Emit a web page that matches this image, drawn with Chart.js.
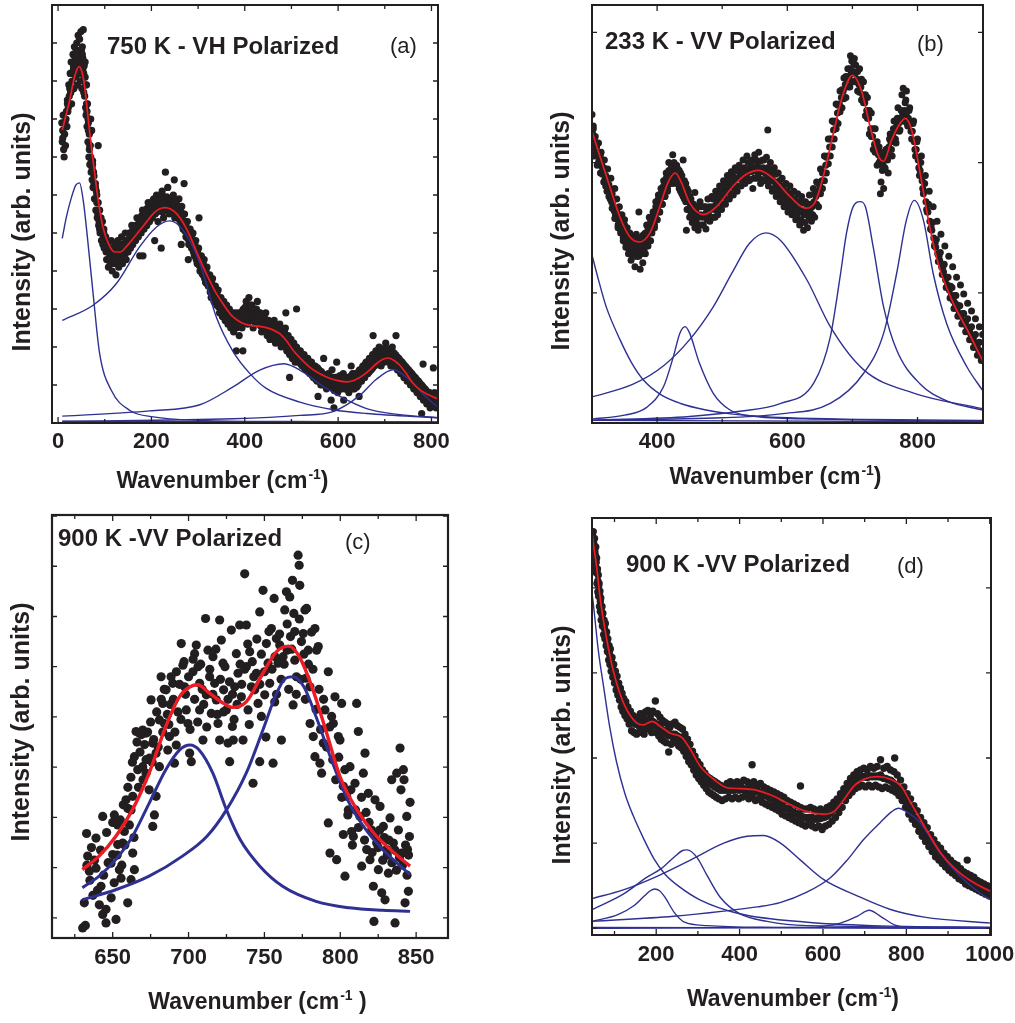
<!DOCTYPE html>
<html>
<head>
<meta charset="utf-8">
<title>Raman spectra with peak fits</title>
<script src="https://cdn.jsdelivr.net/npm/chart.js@4.4.1/dist/chart.umd.min.js"></script>
<style>
  body { margin: 0; background: #fff; }
  #page { position: relative; width: 1015px; height: 1023px; overflow: hidden; }
  canvas { position: absolute; }
</style>
</head>
<body>
<div id="page">
  <canvas id="pa" width="450" height="505" style="left:0;top:0"></canvas>
  <canvas id="pb" width="475" height="505" style="left:540px;top:0"></canvas>
  <canvas id="pc" width="460" height="518" style="left:0;top:505px"></canvas>
  <canvas id="pd" width="475" height="518" style="left:540px;top:505px"></canvas>
</div>
<script>
// ---- panel (a): 750 K, VH ----
const aXTicks = [0, 100, 200, 300, 400, 500, 600, 700, 800];
const aXLabels = ['0', '', '200', '', '400', '', '600', '', '800'];
const aYTicks = [0, 1, 2, 3, 4, 5, 6, 7, 8, 9, 10, 11];
const aFit = [[9,7.71],[18,8.15],[25,8.5],[35,9.1],[45,9.38],[51,9.25],[57,8.85],[62,8.3],[68,7.62],[75,6.9],[82,6.22],[89,5.62],[96,5.16],[108,4.72],[121,4.5],[133,4.5],[146,4.64],[160,4.84],[175,5.07],[190,5.3],[204,5.51],[217,5.63],[229,5.67],[241,5.63],[254,5.51],[268,5.27],[282,4.94],[296,4.53],[311,4.11],[325,3.74],[339,3.41],[357,3.07],[375,2.79],[393,2.64],[411,2.57],[428,2.55],[446,2.51],[460,2.45],[475,2.35],[490,2.15],[504,1.91],[521,1.68],[539,1.47],[557,1.32],[575,1.21],[597,1.12],[618,1.08],[636,1.13],[654,1.26],[668,1.40],[682,1.56],[695,1.67],[707,1.71],[719,1.65],[732,1.52],[746,1.30],[761,1.04],[775,0.88],[789,0.77],[813,0.64]];
const aPeak1 = [[9,4.86],[18,5.43],[29,5.95],[38,6.26],[46,6.32],[54,5.85],[62,4.99],[75,3.41],[89,1.83],[114,0.86],[154,0.33],[204,0.16],[304,0.07],[500,0.04],[813,0.02]];
const aPeak2 = [[9,2.70],[75,3.10],[125,3.67],[175,4.64],[211,5.16],[239,5.32],[268,5.07],[304,4.2],[339,2.79],[375,1.88],[411,1.30],[446,0.91],[518,0.55],[589,0.35],[661,0.25],[813,0.14]];
const aPeak3 = [[9,0.18],[196,0.32],[304,0.48],[375,0.95],[432,1.39],[484,1.56],[525,1.34],[561,1.02],[604,0.70],[661,0.38],[732,0.22],[813,0.14]];
const aPeak4 = [[9,0.05],[375,0.11],[518,0.2],[589,0.3],[646,0.72],[682,1.15],[718,1.40],[754,1.12],[789,0.68],[813,0.42]];
const aBase = [[9,0.04],[813,0.03]];
const aDots = [[8,7.9],[9,7.4],[10,7.7],[11,8.1],[12,7.2],[13,7.0],[14,7.6],[15,7.9],[16,7.3],[18,8.2],[19,7.8],[20,8.5],
[22,8.3],[23,8.9],[24,8.6],[26,9.2],[27,8.7],[28,9.5],[29,8.4],[30,9.0],[32,9.7],[33,9.3],[34,8.8],[35,9.9],[36,9.4],[38,9.1],[39,9.8],[40,10.0],[41,9.5],[42,8.9],[43,10.2],[44,9.6],[45,9.2],
[46,10.1],[47,9.7],[48,9.0],[49,10.3],[50,9.4],[51,8.8],[52,9.9],[53,9.3],[54,10.35],[55,8.7],[56,9.1],[57,8.6],[58,9.5],[59,8.3],
[60,8.1],[61,8.9],[62,7.8],[63,8.4],[64,7.4],[65,7.9],[66,7.0],[67,7.6],[68,6.8],[69,7.3],[70,8.0],[71,6.6],[72,7.7],[73,6.4],[74,6.9],[75,6.2],[77,6.5],[78,5.9],[80,6.3],[81,5.6],[83,6.0],[84,5.4],[86,7.3],[86,5.8],[87,5.2],[89,5.6],[90,5.0],[92,5.4],[93,4.8],[95,5.3],[96,4.7],[98,5.1],[99,4.6],
[102,4.9],[104,4.3],[106,4.7],[108,4.1],[110,4.6],[112,4.2],[114,4.8],[116,4.0],[118,4.5],[120,4.2],[122,4.7],[124,3.9],[126,4.4],[128,4.8],[130,4.1],[132,4.6],[134,4.3],[136,4.9],[138,4.2],[140,4.7],[142,4.4],[144,5.0],[146,4.3],[148,4.8],
[150,4.5],[152,5.0],[155,4.6],[158,5.2],[160,4.7],[163,5.1],[166,4.8],[169,5.4],[172,4.9],[175,5.3],[175,4.4],[178,5.0],[181,5.6],[182,4.4],[184,5.1],[187,5.5],[190,5.2],[193,5.8],[196,5.3],[199,5.7],
[202,5.4],[205,5.9],[207,4.8],[208,5.5],[211,6.0],[214,5.3],[217,5.8],[220,5.6],[221,4.6],[223,6.1],[226,5.4],[229,5.9],[230,6.6],[232,5.7],[235,6.2],[238,5.5],[241,5.9],[244,5.6],[247,6.0],[249,6.4],[250,5.4],[253,5.8],[256,5.5],[259,5.9],
[262,5.3],[264,4.7],[265,5.7],[268,5.1],[270,6.3],[271,5.5],[274,4.9],[277,5.3],[279,4.3],[280,4.7],[283,5.1],[286,4.6],[289,5.0],[292,4.4],[295,4.8],[298,4.2],[301,4.6],[302,5.4],[304,4.0],[307,4.4],[310,3.9],
[313,4.3],[316,3.7],[319,4.1],[322,3.6],[325,3.9],[328,3.3],[331,3.8],[334,3.2],[337,3.6],[340,3.1],[343,3.5],[346,2.9],[349,3.3],[352,2.8],[355,3.2],[358,2.7],[361,3.1],[364,2.6],[367,3.0],[370,2.5],[373,2.9],[376,2.4],[379,2.9],[382,1.9],[382,2.5],[385,2.9],[388,2.3],[391,2.8],[394,2.5],[396,1.9],[397,3.0],
[400,2.7],[403,3.2],[406,2.6],[409,3.3],[412,2.8],[415,3.1],[418,2.5],[421,3.0],[424,2.7],[427,3.2],[430,2.6],[433,2.9],[436,2.4],[439,2.8],[442,2.5],[445,2.9],[448,2.3],
[451,2.7],[454,2.2],[457,2.6],[460,2.3],[463,2.7],[466,2.1],[469,2.5],[472,2.2],[475,2.6],[478,2.0],[481,2.4],[484,2.1],[487,2.5],[488,2.9],[490,1.9],[493,2.3],[496,1.2],[496,1.8],[499,2.2],[502,1.7],[505,2.1],[508,1.6],
[511,3.0],[511,2.0],[515,1.6],[519,1.9],[523,1.5],[527,1.8],[531,1.4],[535,1.7],[539,1.3],[543,1.6],[547,1.2],[551,1.5],[555,1.1],[557,0.7],[559,1.4],[563,1.0],[567,1.3],[569,1.7],[571,1.2],[575,0.9],[579,1.3],[583,1.0],[585,0.6],[587,1.4],[591,0.4],[591,0.9],[595,1.2],[597,1.6],[599,0.8],[603,1.2],[607,1.0],[611,1.3],[612,0.6],[615,0.9],[619,1.2],[623,0.8],[627,1.1],[628,1.5],[631,1.3],[635,0.9],[639,1.2],
[643,1.0],[645,0.7],[646,1.4],[650,1.1],[653,1.5],[657,1.2],[660,1.6],[664,1.3],[667,1.7],[671,1.4],[674,1.8],[675,2.3],[678,1.5],[681,1.9],[685,1.6],[688,2.0],[692,1.5],[695,1.9],[699,1.6],[702,2.1],[706,1.7],[709,1.9],[713,1.5],[716,2.0],[720,1.6],[723,1.8],[724,2.3],[727,1.4],[730,1.7],[734,1.3],[737,1.6],
[741,1.2],[744,1.5],[748,1.1],[751,1.4],[755,1.0],[758,1.3],[762,0.9],[765,1.2],[769,0.8],[772,1.1],[776,0.7],[779,1.0],[779,0.25],[782,1.55],[783,0.6],[786,0.9],[790,0.5],[793,0.8],[797,0.4],[800,0.7],[804,1.45],[804,0.5],[807,0.8],[810,0.4],[813,0.6]];
const aMid = [[10,7.5],[17,8.0],[21,8.2],[25,8.8],[31,9.2],[37,9.6],[42,9.4],[47,9.5],[50,9.8],[53,9.6],[56,9.4],[59,8.9],[61,8.4],[64,8.0],[67,7.2],[70,7.0],[73,6.7],[76,6.6],[79,6.2],[82,6.1],[85,5.5],[88,5.3],[91,5.2],[94,5.0],[97,4.9],[100,4.8],[103,4.5],[107,4.5],[111,4.4],[115,4.4],[119,4.35],[123,4.4],[127,4.5],[131,4.4],[135,4.55],[139,4.5],[143,4.6],[147,4.6],[151,4.75],[154,4.8],[157,4.9],[161,4.95],[165,5.0],[168,5.1],[171,5.15],[174,5.2],[177,5.25],[180,5.3],[183,5.35],[186,5.3],[189,5.45],[192,5.5],[195,5.55],[198,5.5],[201,5.65],[204,5.7],[207,5.65],[210,5.75],[213,5.7],[216,5.65],[219,5.8],[222,5.75],[225,5.7],[228,5.8],[231,5.75],[234,5.8],[237,5.85],[240,5.7],[243,5.75],[246,5.7],[249,5.65],[252,5.6],[255,5.7],[258,5.55],[261,5.5],[264,5.4],[267,5.35],[270,5.3],[273,5.2],[276,5.1],[279,5.0],[282,4.95],[285,4.85],[288,4.75],[291,4.65],[294,4.55],[297,4.45],[300,4.35],[303,4.3],[306,4.2],[309,4.1],[312,4.0],[315,3.95],[318,3.85],[321,3.8],[324,3.7],[327,3.6],[330,3.55],[333,3.5],[336,3.4],[339,3.35],[342,3.3],[345,3.2],[348,3.1],[351,3.05],[354,3.0],[357,2.95],[360,2.9],[363,2.85],[366,2.8],[369,2.75],[372,2.7],[375,2.65],[378,2.7],[381,2.75],[384,2.7],[387,2.65],[390,2.7],[393,2.75],[396,2.8],[399,2.9],[402,2.95],[405,2.9],[408,2.95],[411,3.0],[414,2.95],[417,2.85],[420,2.8],[423,2.9],[426,2.85],[429,2.8],[432,2.75],[435,2.7],[438,2.65],[441,2.7],[444,2.6],[447,2.65],[450,2.5],[453,2.45],[456,2.4],[459,2.45],[462,2.5],[465,2.4],[468,2.3],[471,2.35],[474,2.4],[477,2.3],[480,2.2],[483,2.25],[486,2.3],[489,2.2],[492,2.1],[495,2.05],[498,2.0],[501,1.95],[504,1.9],[507,1.85],[510,1.8],[513,1.8],[517,1.75],[521,1.7],[525,1.65],[529,1.6],[533,1.55],[537,1.5],[541,1.45],[545,1.4],[549,1.35],[553,1.3],[557,1.3],[561,1.25],[565,1.2],[569,1.15],[573,1.1],[577,1.1],[581,1.15],[585,1.1],[589,1.05],[593,1.0],[597,1.05],[601,1.0],[605,1.1],[609,1.05],[613,1.1],[617,1.05],[621,1.0],[625,1.05],[629,1.1],[633,1.05],[637,1.15],[641,1.1],[645,1.2],[649,1.25],[653,1.3],[656,1.35],[659,1.4],[662,1.45],[665,1.5],[669,1.55],[673,1.6],[676,1.65],[680,1.7],[683,1.75],[687,1.8],[690,1.75],[694,1.8],[697,1.75],[701,1.85],[704,1.8],[708,1.75],[711,1.7],[715,1.75],[718,1.7],[722,1.65],[725,1.6],[729,1.55],[732,1.5],[736,1.45],[739,1.4],[743,1.35],[746,1.3],[750,1.25],[753,1.2],[757,1.15],[760,1.1],[764,1.05],[767,1.0],[771,0.95],[774,0.9],[778,0.85],[781,0.8],[785,0.75],[788,0.7],[792,0.68],[795,0.65],[799,0.6],[802,0.62],[806,0.6],[809,0.58],[812,0.55]];
const aMid2 = [[12,7.9],[20,8.4],[27,8.7],[33,9.4],[39,9.3],[44,9.8],[48,9.3],[52,9.7],[55,9.2],[58,9.1],[62,8.2],[65,7.7],[68,7.3],[71,6.9],[74,6.8],[77,6.3],[80,6.2],[83,5.8],[86,5.6],[89,5.1],[92,5.1],[95,4.8],[98,5.0],[101,4.6],[105,4.7],[109,4.3],[113,4.6],[117,4.2],[121,4.6],[125,4.25],[129,4.65],[133,4.3],[137,4.7],[141,4.4],[145,4.8],[149,4.5],[153,4.95],[156,4.65],[159,5.05],[163,4.8],[167,5.2],[170,4.95],[173,5.35],[176,5.05],[179,5.45],[182,5.15],[185,5.5],[188,5.2],[191,5.65],[194,5.35],[197,5.7],[200,5.4],[203,5.85],[206,5.5],[209,5.9],[212,5.55],[215,5.85],[218,5.6],[221,5.95],[224,5.55],[227,5.95],[230,5.6],[233,5.95],[236,5.65],[239,5.9],[242,5.55],[245,5.9],[248,5.5],[251,5.8],[254,5.45],[257,5.7],[260,5.35],[263,5.55],[266,5.2],[269,5.5],[272,5.05],[275,5.3],[278,4.85],[281,5.1],[284,4.7],[287,4.95],[290,4.5],[293,4.7],[296,4.3],[299,4.5],[302,4.15],[305,4.35],[308,3.95],[311,4.2],[314,3.8],[317,4.0],[320,3.65],[323,3.85],[326,3.45],[329,3.7],[332,3.35],[335,3.55],[338,3.2],[341,3.45],[344,3.05],[347,3.25],[350,2.9],[353,3.15],[356,2.8],[359,3.05],[362,2.7],[365,2.95],[368,2.6],[371,2.85],[374,2.5],[377,2.85],[380,2.6],[383,2.85],[386,2.55],[389,2.85],[392,2.6],[395,2.95],[398,2.7],[401,3.05],[404,2.75],[407,3.1],[410,2.85],[413,3.1],[416,2.7],[419,2.95],[422,2.65],[425,3.0],[428,2.65],[431,2.9],[434,2.55],[437,2.85],[440,2.55],[443,2.75],[446,2.45],[449,2.65],[452,2.3],[455,2.55],[458,2.3],[461,2.6],[464,2.25],[467,2.45],[470,2.2],[473,2.5],[476,2.15],[479,2.35],[482,2.1],[485,2.4],[488,2.05],[491,2.25],[494,1.9],[497,2.15],[500,1.8],[503,2.05],[506,1.7],[509,1.95],[512,1.65],[516,1.9],[520,1.55],[524,1.8],[528,1.45],[532,1.7],[536,1.35],[540,1.6],[544,1.25],[548,1.5],[552,1.15],[556,1.45],[560,1.1],[564,1.35],[568,1.0],[572,1.25],[576,0.95],[580,1.25],[584,0.95],[588,1.2],[592,0.85],[596,1.2],[600,0.85],[604,1.25],[608,0.9],[612,1.2],[616,0.9],[620,1.15],[624,0.9],[628,1.25],[632,0.9],[636,1.3],[640,0.95],[644,1.35],[648,1.1],[652,1.45],[655,1.2],[658,1.55],[661,1.3],[664,1.6],[667,1.35],[670,1.7],[674,1.45],[677,1.8],[681,1.55],[684,1.9],[688,1.65],[691,1.9],[695,1.6],[698,1.95],[702,1.65],[705,1.95],[709,1.6],[712,1.85],[716,1.55],[719,1.85],[723,1.5],[726,1.75],[730,1.4],[733,1.65],[737,1.3],[740,1.55],[744,1.2],[747,1.45],[751,1.1],[754,1.35],[758,1.0],[761,1.25],[765,0.9],[768,1.15],[772,0.8],[775,1.05],[779,0.7],[782,0.95],[786,0.6],[789,0.85],[793,0.55],[796,0.8],[800,0.5],[803,0.75],[807,0.45],[810,0.7],[813,0.5]];

// ---- panel (b): 233 K, VV ----
const bXTicks = [300, 400, 500, 600, 700, 800, 900];
const bXLabels = ['', '400', '', '600', '', '800', ''];
const bYTicks = [0, 1, 2, 3];
const bFit = [[300,2.24],[312,2.05],[327,1.82],[343,1.58],[358,1.43],[373,1.39],[389,1.46],[404,1.66],[417,1.85],[428,1.92],[437,1.85],[450,1.69],[471,1.60],[491,1.66],[517,1.82],[537,1.91],[556,1.94],[578,1.88],[604,1.74],[628,1.65],[642,1.69],[655,1.89],[671,2.23],[686,2.53],[700,2.67],[714,2.55],[727,2.28],[740,2.05],[748,2.01],[760,2.17],[773,2.30],[781,2.34],[791,2.25],[804,1.92],[817,1.55],[832,1.22],[855,0.92],[876,0.72],[900,0.48]];
const bPeak1 = [[300,1.29],[311,1.08],[322,0.89],[343,0.64],[360,0.47],[379,0.33],[405,0.22],[436,0.15],[475,0.10],[513,0.07],[600,0.04],[900,0.02]];
const bPeak2 = [[300,0.03],[350,0.06],[384,0.12],[410,0.28],[425,0.51],[435,0.69],[443,0.74],[450,0.69],[465,0.46],[486,0.23],[512,0.10],[552,0.05],[650,0.03],[900,0.01]];
const bPeak3 = [[300,0.20],[364,0.30],[410,0.44],[450,0.64],[486,0.89],[517,1.17],[542,1.38],[567,1.46],[590,1.40],[630,1.10],[666,0.74],[717,0.41],[794,0.23],[900,0.11]];
const bPeak4 = [[300,0.02],[450,0.05],[527,0.09],[590,0.15],[641,0.31],[666,0.66],[681,1.12],[691,1.46],[701,1.66],[712,1.70],[720,1.66],[732,1.35],[748,0.89],[768,0.56],[804,0.30],[845,0.17],[900,0.10]];
const bPeak5 = [[300,0.02],[500,0.04],[590,0.07],[666,0.15],[717,0.38],[748,0.69],[768,1.15],[783,1.56],[795,1.71],[809,1.56],[824,1.15],[845,0.76],[876,0.43],[900,0.25]];
const bBase = [[300,0.02],[900,0.01]];
const bDots = [[300,2.37],[301,2.15],[302,2.28],[304,2.05],[305,2.20],[307,2.12],[308,1.98],[310,2.15],[311,2.02],[313,1.92],[314,2.08],[316,1.96],[318,1.85],[319,2.02],[321,1.90],[323,1.78],[324,1.95],[326,1.83],[328,1.72],[329,1.88],
[331,1.76],[333,1.65],[335,1.80],[336,1.60],[338,1.72],[340,1.52],[342,1.66],[344,1.48],[346,1.60],[348,1.42],[350,1.56],[352,1.35],[354,1.50],[356,1.30],[358,1.46],[360,1.25],[362,1.42],[364,1.32],[366,1.20],[368,1.45],[370,1.28],[372,1.62],[372,1.38],[374,1.18],[376,1.33],[378,1.23],
[380,1.45],[382,1.30],[384,1.52],[386,1.36],[388,1.58],[390,1.40],[392,1.48],[394,1.62],[396,1.50],[398,1.70],[400,1.56],[402,1.75],[404,1.62],[406,1.80],[408,1.68],[410,1.86],[412,1.74],[414,1.92],[416,1.80],[418,2.00],[420,1.86],[422,1.95],[424,2.06],[426,1.88],[428,1.98],[430,1.84],
[432,1.95],[434,1.80],[436,1.92],[438,1.76],[440,2.02],[442,1.72],[444,1.84],[445,1.48],[446,1.64],[448,1.78],[450,1.58],[452,1.72],[454,1.54],[456,1.68],[458,1.77],[458,1.50],[460,1.64],[463,1.48],[466,1.70],[469,1.52],[472,1.66],[475,1.49],[478,1.72],
[481,1.55],[484,1.74],[487,1.58],[490,1.78],[493,1.60],[496,1.82],[499,1.64],[502,1.86],[505,1.68],[508,1.90],[511,1.72],[514,1.93],[517,1.75],[520,1.96],[523,1.78],[526,1.98],[529,1.82],[532,2.02],[535,1.84],[538,2.05],[541,1.86],[544,2.00],[547,1.80],[550,2.06],[553,1.88],[556,2.08],[559,1.84],[562,2.02],[565,1.86],[568,2.04],[570,2.25],[571,1.82],[574,2.00],[577,1.78],[580,1.96],[583,1.74],[586,1.92],[589,1.70],[592,1.88],[595,1.66],[598,1.84],[601,1.62],[604,1.82],[607,1.60],[610,1.78],[613,1.56],[616,1.76],[619,1.52],[622,1.74],[625,1.48],[628,1.70],[631,1.50],[634,1.75],[637,1.55],[640,1.80],
[642,1.58],[645,1.85],[648,1.66],[651,1.95],[654,1.80],[657,2.05],[660,1.92],[663,2.18],[666,2.05],[669,2.32],[672,2.18],[675,2.45],[678,2.30],[681,2.55],[684,2.42],[687,2.65],[690,2.50],[693,2.72],[696,2.58],[697,2.82],[699,2.78],[702,2.62],[703,2.80],[705,2.75],
[708,2.55],[711,2.72],[714,2.48],[717,2.62],[720,2.36],[723,2.50],[726,2.22],[729,2.38],[732,2.10],[735,2.26],[738,1.98],[741,2.12],[743,1.76],[744,1.85],[746,2.05],[748,1.80],[750,1.95],
[752,2.10],[755,1.92],[758,2.22],[761,2.05],[764,2.32],[767,2.15],[770,2.42],[773,2.25],[776,2.52],[778,2.57],[779,2.32],[782,2.48],[783,2.55],[785,2.28],[788,2.42],[791,2.18],[794,2.32],[797,2.05],[800,2.18],
[803,1.90],[806,2.05],[809,1.76],[812,1.90],[815,1.62],[818,1.78],[821,1.50],[824,1.66],[827,1.38],[830,1.55],[833,1.28],[836,1.45],[839,1.20],[842,1.36],[845,1.12],[848,1.28],[851,1.05],[854,1.20],[857,0.98],[860,1.12],[863,0.90],[866,1.06],[869,0.84],[871,0.99],[874,0.78],[877,0.92],[880,0.70],[883,0.86],[886,0.66],[889,0.80],[892,0.60],[895,0.74],[898,0.55],[900,0.68]];
const bMid = [[301,2.22],[303,2.18],[306,2.12],[309,2.07],[312,2.03],[315,1.98],[317,1.92],[320,1.87],[322,1.84],[325,1.80],[327,1.77],[330,1.70],[332,1.68],[334,1.63],[337,1.60],[339,1.57],[341,1.55],[343,1.52],[345,1.50],[347,1.46],[349,1.48],[351,1.44],[353,1.42],[355,1.40],[357,1.38],[359,1.36],[361,1.37],[363,1.34],[365,1.36],[367,1.33],[369,1.37],[371,1.35],[373,1.30],[375,1.38],[377,1.36],[379,1.40],[381,1.38],[383,1.42],[385,1.44],[387,1.46],[389,1.50],[391,1.55],[393,1.52],[395,1.58],[397,1.60],[399,1.62],[401,1.66],[403,1.68],[405,1.70],[407,1.74],[409,1.76],[411,1.80],[413,1.82],[415,1.85],[417,1.88],[419,1.90],[421,1.92],[423,1.90],[425,1.94],[427,1.92],[429,1.90],[431,1.92],[433,1.88],[435,1.86],[437,1.84],[439,1.82],[441,1.80],[443,1.76],[445,1.74],[447,1.72],[449,1.70],[451,1.66],[453,1.64],[455,1.62],[457,1.60],[459,1.58],[461,1.60],[464,1.58],[467,1.60],[470,1.58],[473,1.60],[476,1.62],[479,1.60],[482,1.64],[485,1.66],[488,1.64],[491,1.68],[494,1.70],[497,1.72],[500,1.74],[503,1.76],[506,1.78],[509,1.80],[512,1.82],[515,1.84],[518,1.86],[521,1.88],[524,1.88],[527,1.90],[530,1.92],[533,1.90],[536,1.94],[539,1.92],[542,1.95],[545,1.93],[548,1.96],[551,1.94],[554,1.98],[557,1.95],[560,1.93],[563,1.96],[566,1.92],[569,1.90],[572,1.92],[575,1.88],[578,1.86],[581,1.85],[584,1.82],[587,1.80],[590,1.78],[593,1.76],[596,1.74],[599,1.72],[602,1.72],[605,1.70],[608,1.68],[611,1.66],[614,1.65],[617,1.64],[620,1.62],[623,1.63],[626,1.60],[629,1.62],[632,1.64],[635,1.62],[638,1.66],[641,1.70],[644,1.74],[647,1.78],[650,1.82],[653,1.86],[656,1.92],[659,1.98],[662,2.05],[665,2.12],[668,2.18],[671,2.25],[674,2.32],[677,2.38],[680,2.45],[683,2.50],[686,2.55],[689,2.60],[692,2.64],[695,2.66],[698,2.68],[701,2.70],[704,2.68],[707,2.64],[710,2.60],[713,2.58],[716,2.52],[719,2.46],[722,2.40],[725,2.34],[728,2.26],[731,2.20],[734,2.14],[737,2.10],[740,2.06],[743,2.02],[745,2.00],[747,1.98],[749,2.02],[751,2.04],[753,2.08],[756,2.12],[759,2.16],[762,2.20],[765,2.24],[768,2.28],[771,2.30],[774,2.34],[777,2.38],[780,2.40],[783,2.36],[786,2.34],[789,2.30],[792,2.24],[795,2.16],[798,2.10],[801,2.02],[804,1.94],[807,1.86],[810,1.78],[813,1.70],[816,1.62],[819,1.55],[822,1.48],[825,1.42],[828,1.35],[831,1.30],[834,1.25],[837,1.20],[840,1.16],[843,1.10],[846,1.06],[849,1.02],[852,0.98],[855,0.94],[858,0.92],[861,0.88],[864,0.84],[867,0.82],[870,0.78],[873,0.76],[876,0.74],[879,0.70],[882,0.68],[885,0.64],[888,0.62],[891,0.58],[894,0.56],[897,0.52],[900,0.50]];
const bMid2 = [[302,2.26],[304,2.10],[307,2.15],[310,2.00],[313,2.06],[316,1.91],[318,1.96],[321,1.82],[323,1.86],[326,1.74],[328,1.80],[331,1.65],[333,1.72],[335,1.57],[338,1.64],[340,1.50],[342,1.60],[344,1.46],[346,1.54],[348,1.40],[350,1.52],[352,1.38],[354,1.46],[356,1.34],[358,1.42],[360,1.30],[362,1.42],[364,1.28],[366,1.40],[368,1.28],[370,1.42],[372,1.28],[374,1.36],[376,1.30],[378,1.44],[380,1.32],[382,1.46],[384,1.36],[386,1.50],[388,1.40],[390,1.56],[392,1.46],[394,1.62],[396,1.52],[398,1.66],[400,1.56],[402,1.72],[404,1.62],[406,1.76],[408,1.68],[410,1.82],[412,1.74],[414,1.88],[416,1.78],[418,1.94],[420,1.84],[422,1.98],[424,1.84],[426,2.00],[428,1.86],[430,1.98],[432,1.84],[434,1.94],[436,1.78],[438,1.90],[440,1.74],[442,1.86],[444,1.70],[446,1.80],[448,1.64],[450,1.74],[452,1.60],[454,1.68],[456,1.56],[458,1.66],[460,1.54],[462,1.66],[465,1.52],[468,1.66],[471,1.52],[474,1.66],[477,1.56],[480,1.66],[483,1.58],[486,1.72],[489,1.58],[492,1.74],[495,1.64],[498,1.78],[501,1.68],[504,1.82],[507,1.72],[510,1.86],[513,1.76],[516,1.90],[519,1.80],[522,1.94],[525,1.82],[528,1.96],[531,1.86],[534,1.96],[537,1.88],[540,2.00],[543,1.87],[546,2.02],[549,1.88],[552,2.02],[555,1.90],[558,2.01],[561,1.87],[564,2.02],[567,1.86],[570,1.96],[573,1.86],[576,1.94],[579,1.80],[582,1.91],[585,1.76],[588,1.86],[591,1.72],[594,1.82],[597,1.68],[600,1.78],[603,1.66],[606,1.76],[609,1.62],[612,1.72],[615,1.59],[618,1.70],[621,1.56],[624,1.69],[627,1.54],[630,1.68],[633,1.58],[636,1.68],[639,1.60],[642,1.76],[645,1.68],[648,1.84],[651,1.76],[654,1.92],[657,1.86],[660,2.04],[663,1.99],[666,2.18],[669,2.12],[672,2.31],[675,2.26],[678,2.44],[681,2.39],[684,2.56],[687,2.49],[690,2.66],[693,2.58],[696,2.72],[699,2.62],[702,2.76],[705,2.62],[708,2.70],[711,2.54],[714,2.64],[717,2.46],[720,2.52],[723,2.34],[726,2.40],[729,2.20],[732,2.26],[735,2.08],[738,2.16],[741,2.00],[744,2.08],[746,1.94],[748,2.04],[750,1.96],[752,2.10],[754,2.02],[757,2.18],[760,2.10],[763,2.26],[766,2.18],[769,2.34],[772,2.24],[775,2.40],[778,2.32],[781,2.46],[784,2.30],[787,2.40],[790,2.24],[793,2.30],[796,2.10],[799,2.16],[802,1.96],[805,2.00],[808,1.80],[811,1.84],[814,1.64],[817,1.68],[820,1.49],[823,1.54],[826,1.36],[829,1.41],[832,1.24],[835,1.31],[838,1.14],[841,1.22],[844,1.04],[847,1.12],[850,0.96],[853,1.04],[856,0.88],[859,0.98],[862,0.82],[865,0.90],[868,0.76],[871,0.84],[874,0.70],[877,0.80],[880,0.64],[883,0.74],[886,0.58],[889,0.68],[892,0.52],[895,0.62],[898,0.48]];

// ---- panel (c): 900 K, VV ----
const cXTicks = [625, 650, 675, 700, 725, 750, 775, 800, 825, 850];
const cXLabels = ['', '650', '', '700', '', '750', '', '800', '', '850'];
const cYTicks = [0, 1, 2, 3, 4, 5, 6, 7, 8];
const cFit = [[630,0.96],[641,1.23],[652,1.62],[663,2.15],[674,2.88],[685,3.81],[694,4.40],[701,4.60],[706,4.64],[714,4.47],[723,4.27],[729,4.19],[738,4.30],[749,4.87],[758,5.30],[766,5.41],[773,5.20],[782,4.54],[791,3.68],[800,2.80],[811,2.15],[822,1.69],[833,1.36],[846,1.03]];
const cPeak1 = [[630,0.60],[641,0.83],[652,1.16],[663,1.62],[674,2.28],[685,2.95],[694,3.34],[701,3.44],[707,3.34],[716,2.88],[725,2.15],[734,1.56],[747,1.03],[762,0.63],[784,0.33],[806,0.20],[828,0.15],[846,0.13]];
const cPeak2 = [[630,0.36],[652,0.56],[674,0.83],[696,1.23],[712,1.62],[725,2.15],[738,2.88],[749,3.74],[758,4.47],[764,4.77],[769,4.80],[776,4.60],[784,4.01],[795,3.08],[806,2.28],[817,1.75],[828,1.36],[846,0.86]];
const cDots = [[632.8,1.68],[639,1.59],[643.4,2.02],[651.1,2.05],[653.3,1.85],[633.5,1.23],[634.6,0.93],[631.3,0.30],[630.2,-0.20],[632,-0.15],[639,0.99],[642.3,0.63],[641.2,0.26],[643.4,0.07],[645.6,0.17],[645.6,-0.10],[648.9,1.09],[650,1.26],[652.2,-0.03],[653.3,1.46],[654.4,0.96],[655.5,0.79],[656.6,1.49],[657.7,1.72],[659.9,0.30],[662.1,0.76],[663.2,1.29],[664.3,0.96],[658.8,2.35],[660,2.18],[662.1,2.15],
[663.2,2.42],[665.4,3.71],[667.6,3.68],[669.8,3.74],[672,3.68],[664.3,3.21],[666.5,2.95],[669.8,3.01],[672,2.88],[674.2,3.18],[676.4,3.48],[678.6,3.28],[680.8,3.01],[675.3,4.34],[678.6,2.42],[676.4,1.82],[677.5,2.05],[680.8,3.94],[681.9,4.80],[683,4.27],[684.1,3.87],[685.2,4.54],[686.3,3.34],[687.4,3.61],[688.5,4.80],[689.6,4.67],[690.7,3.08],[691.9,3.44],
[695.2,5.46],[696.3,5.03],[697.4,4.60],[698.5,4.14],[699.6,3.87],[700.7,3.28],[701.8,3.11],[702.9,4.90],[704,5.26],[705.1,5.43],[706.2,5.00],[707.3,4.67],[707.3,4.14],[709.5,3.54],[711.2,5.96],[711.7,4.44],[712.8,5.33],[713.9,4.80],[715,4.07],[716.1,5.20],[717.2,4.67],[718.3,4.34],[719.4,3.87],[720.5,5.93],[720.5,3.54],[721.6,5.53],[722.7,5.07],[723.1,4.54],[724.9,4.14],[726,3.48],[727.1,3.11],[728.2,5.73],[728.9,3.81],[729.5,3.54],
[730.4,4.60],[731.5,5.26],[732.6,4.87],[733.7,5.83],[734.8,4.40],[735.9,3.54],[737,6.85],[738.1,5.83],[738.1,5.00],[739.2,4.14],[740.3,5.30],[741.4,4.60],[742.5,2.68],[743.6,4.54],[744.7,4.87],[745.8,4.27],[746.9,6.09],[746.9,3.11],[748,4.01],[749.1,6.52],[750.2,4.44],[751.3,5.46],[752.4,5.07],[753.5,4.67],[754.6,5.76],[755.7,3.08],[756.4,6.36],[756.8,4.30],[757.9,5.56],[759,5.07],[760.1,5.43],
[761.2,3.54],[762.3,5.20],[763.4,6.13],[764.5,6.49],[765,5.33],[766.7,6.39],[767.2,5.60],[768.5,6.72],[768.9,4.24],[769.4,6.06],[770,5.13],[771.1,4.80],[772.2,7.22],[772.9,7.02],[773.3,6.62],[774.4,5.50],[775.6,5.66],[776.7,6.13],[777.3,4.77],[777.8,6.16],[778.9,5.33],[780.1,3.87],[781.1,5.69],[782.2,3.61],[783.3,5.76],[783.3,3.21],[784.4,5.33],[785.5,5.40],[786.6,3.08],[787.7,2.88],[788.8,3.48],[789.9,4.14],[792.1,4.90],
[792.1,1.89],[793.2,1.29],[794.3,4.01],[795.4,3.87],[796.5,4.40],[797.6,1.16],[798.7,3.61],[799.8,3.54],[800.9,4.27],[802,2.62],[803.1,0.83],[802,1.66],[804.2,2.42],[805.3,2.15],[806.4,3.01],[807.5,1.72],[808.6,1.62],[809.7,2.68],[810.8,4.27],[811.9,3.71],[813,2.02],[814.1,1.03],[815.2,2.88],[816.3,3.28],[817.4,1.36],[818.5,2.48],[819.6,1.16],
[820.7,1.75],[821.8,0.63],[822.2,-0.07],[822.9,2.35],[824,1.49],[825.1,0.96],[826.2,2.22],[827.3,0.50],[828.4,1.82],[829.5,0.36],[830.6,1.36],[831.7,0.89],[832.8,1.99],[833.9,2.75],[835,1.49],[836.1,-0.10],[837.2,2.88],[838.3,1.75],[839.4,3.38],[840.5,1.29],[841.6,2.95],[842.7,0.30],[843.8,2.02],[844.3,1.36],[844.9,0.53],[845.6,1.62],
[633,1.05],[635,0.75],[636,1.40],[637,0.45],[638,1.15],[640,0.55],[642,1.35],[644,0.85],[646,1.70],[647,1.10],[649,0.40],[650,1.90],[651,0.70],[653,1.25],[655,1.95],[656,1.05],[657,2.25],[658,1.45],[660,2.60],[661,1.85],[662,2.80],[663,3.10],[664,1.60],[666,3.50],[667,2.60],[668,3.30],[669,3.65],[670,2.75],[671,3.45],[672,3.15],[673,3.70],[674,2.55],[675,3.90],[676,3.10],[677,3.55],[679,4.10],[680,3.40],[682,4.35],[683,3.70],[684,4.55],[686,4.05],[687,3.85],[688,4.25],[690,4.35],[691,3.70],[692,4.90],[693,4.10],[694,4.65],[695,3.95],[697,5.10],[698,4.45],[700,4.80],[701,3.75],[703,5.15],[704,4.35],[706,3.90],[708,5.05],[709,4.55],[710,4.25],[712,3.80],[714,4.95],[716,4.45],[718,5.35],[719,4.05],[721,4.75],[723,4.10],[724,5.00],[726,4.35],[727,4.70],[729,4.45],[730,3.95],[732,4.25],[734,5.05],[735,4.65],[737,4.95],[739,5.45],[740,3.85],[742,5.10],[743,4.80],[745,5.55],[747,4.65],[748,5.25],[750,4.90],[751,3.60],[753,5.70],[755,4.95],[757,5.20],[758,4.45],[760,5.65],[761,4.75],[763,5.05],[765,5.85],[766,4.55],[768,5.35],[770,5.70],[771,4.45],[773,5.95],[774,4.75],[776,5.25],[777,4.35],[779,5.05],[780,4.60],[782,4.95],[784,4.15],[786,4.55],[787,3.75],[789,4.35],[791,3.40],[793,3.80],[795,3.15],[797,2.75],[799,3.20],[801,2.40],[803,2.95],[805,2.05],[807,2.55],[808,1.45],[810,2.15],[812,1.80],[814,2.40],[816,1.55],[817,2.10],[819,1.90],[821,1.30],[823,1.65],[825,1.40],[826,1.75],[828,1.15],[829,1.60],[831,1.25],[832,1.55],[834,1.10],[836,1.35],[837,0.95],[839,1.20],[840,2.55],[841,1.05],[842,2.75],[843,1.45],[844,0.85],[845,1.25],[846,2.30]];

// ---- panel (d): 900 K, VV ----
const dXTicks = [100, 200, 300, 400, 500, 600, 700, 800, 900, 1000];
const dXLabels = ['', '200', '', '400', '', '600', '', '800', '', '1000'];
const dYTicks = [0, 1, 2, 3, 4];
const dFit = [[47,4.62],[49,4.53],[57,4.25],[65,3.90],[77,3.51],[89,3.20],[105,2.88],[125,2.61],[154,2.41],[170,2.39],[190,2.43],[210,2.37],[234,2.29],[262,2.24],[282,2.10],[306,1.90],[338,1.75],[370,1.65],[402,1.64],[442,1.62],[482,1.55],[522,1.45],[562,1.37],[602,1.34],[626,1.37],[650,1.51],[674,1.67],[698,1.75],[730,1.78],[762,1.75],[787,1.67],[811,1.47],[843,1.20],[883,0.88],[923,0.67],[963,0.53],[1003,0.43]];
const dPeak1 = [[47,3.90],[49,3.82],[61,3.27],[75,2.80],[89,2.35],[105,1.95],[125,1.58],[145,1.32],[170,1.05],[194,0.82],[220,0.64],[252,0.50],[306,0.33],[400,0.17],[562,0.07],[722,0.03],[1003,0.01]];
const dPeak2 = [[47,0.08],[108,0.16],[148,0.27],[172,0.38],[186,0.44],[196,0.46],[208,0.44],[220,0.37],[244,0.18],[268,0.07],[322,0.03],[482,0.01],[1003,0.0]];
const dPeak3 = [[47,0.22],[121,0.40],[178,0.60],[212,0.70],[244,0.84],[262,0.91],[274,0.92],[298,0.83],[322,0.62],[354,0.36],[400,0.17],[466,0.08],[562,0.03],[1003,0.01]];
const dPeak4 = [[47,0.35],[121,0.45],[202,0.61],[282,0.80],[362,1.0],[418,1.08],[458,1.09],[498,1.0],[546,0.80],[602,0.57],[682,0.38],[762,0.22],[843,0.13],[1003,0.06]];
const dPeak5 = [[47,0.0],[562,0.01],[642,0.06],[682,0.14],[711,0.21],[738,0.14],[771,0.04],[803,0.01],[1003,0.0]];
const dPeak6 = [[47,0.08],[242,0.14],[362,0.20],[442,0.25],[497,0.30],[560,0.42],[617,0.59],[658,0.80],[697,1.04],[737,1.24],[765,1.37],[781,1.41],[800,1.37],[833,1.24],[881,0.88],[929,0.61],[977,0.41],[1003,0.33]];
const dBase = [[47,0.01],[1003,0.0]];
const dDots = [[47,4.62],[48,4.40],[49,4.66],[50,4.52],[51,4.35],[52,4.58],[53,4.42],[54,4.25],[55,4.48],[56,4.18],[57,4.35],[58,4.05],[59,4.22],[60,3.95],[61,4.15],[62,3.90],[63,4.05],[64,3.78],[65,3.96],[66,3.72],[67,3.88],[68,3.62],[70,3.78],[71,3.55],[72,3.70],[74,3.45],[75,3.62],[77,3.40],[78,3.58],[80,3.32],[81,3.48],[83,3.25],[84,3.40],[86,3.15],[87,3.32],[89,3.10],[90,3.28],[92,3.02],[94,3.18],[96,2.95],[98,3.10],[100,2.88],[102,3.02],[104,2.80],[106,2.96],[108,2.74],[110,2.88],[112,2.68],[114,2.82],[116,2.60],[118,2.76],[120,2.55],[122,2.70],[125,2.50],[127,2.66],[130,2.46],[132,2.60],[135,2.40],[138,2.55],[141,2.32],[144,2.50],[147,2.30],[150,2.48],[153,2.28],[156,2.46],[159,2.30],[162,2.52],[165,2.32],[168,2.50],[171,2.28],[174,2.54],[177,2.34],[180,2.56],[183,2.36],[186,2.50],[189,2.30],[192,2.55],[195,2.38],[198,2.67],[200,2.30],[203,2.52],[206,2.26],[209,2.48],[212,2.22],[215,2.44],[218,2.20],[221,2.42],[224,2.18],[227,2.40],[230,2.07],[233,2.36],[236,2.16],[239,2.40],[242,2.20],[245,2.42],[248,2.18],[251,2.38],[254,2.14],[257,2.36],[260,2.12],[263,2.34],[266,2.08],[269,2.28],[272,2.02],[275,2.22],[278,1.96],[281,2.16],[284,1.92],[287,2.08],[290,1.86],[293,2.02],[296,1.80],[299,1.96],[302,1.76],[305,1.92],[308,1.72],[311,1.86],[314,1.68],[317,1.82],[320,1.64],[323,1.78],[326,1.60],[329,1.76],[332,1.58],[335,1.74],[338,1.56],[341,1.72],[344,1.54],[347,1.70],[350,1.52],[354,1.68],[358,1.50],[362,1.66],[366,1.52],[370,1.70],[374,1.54],[378,1.72],[382,1.52],[386,1.70],[390,1.54],[394,1.72],[398,1.52],[402,1.70],[406,1.54],[410,1.74],[414,1.56],[418,1.72],[422,1.52],[426,1.70],[430,1.92],[430,1.55],[434,1.72],[438,1.50],[442,1.68],[446,1.52],[450,1.70],[454,1.48],[458,1.66],[462,1.46],[466,1.64],[470,1.44],[474,1.62],[478,1.42],[482,1.60],[486,1.40],[490,1.58],[494,1.38],[498,1.56],[502,1.34],[506,1.54],[510,1.32],[514,1.50],[518,1.30],[522,1.48],[526,1.28],[530,1.46],[534,1.26],[538,1.44],[542,1.24],[546,1.67],[546,1.42],[550,1.22],[554,1.40],[558,1.20],[562,1.40],[566,1.22],[570,1.42],[574,1.20],[578,1.40],[582,1.18],[586,1.38],[590,1.20],[594,1.40],[598,1.16],[602,1.36],[606,1.20],[610,1.42],[614,1.22],[618,1.44],[622,1.26],[626,1.48],[630,1.30],[634,1.52],[638,1.36],[642,1.58],[646,1.42],[650,1.64],[654,1.50],[658,1.70],[662,1.56],[666,1.76],[670,1.60],[674,1.80],[678,1.64],[682,1.84],[686,1.66],[690,1.86],[694,1.68],[698,1.88],[702,1.66],[706,1.86],[710,1.68],[714,1.90],[718,1.66],[722,1.88],[726,1.68],[730,1.90],[734,1.66],[738,1.98],[738,1.80],[742,1.64],[746,1.88],[750,1.66],[754,1.90],[758,1.64],[762,1.86],[766,1.62],[770,1.84],[772,2.00],[774,1.60],[778,1.80],[782,1.56],[786,1.74],[790,1.50],[794,1.66],[798,1.42],[802,1.58],[806,1.34],[810,1.52],[814,1.28],[818,1.44],[822,1.22],[826,1.38],[830,1.14],[834,1.30],[838,1.08],[842,1.24],[846,1.02],[850,1.18],[854,0.96],[858,1.10],[862,0.90],[866,1.04],[870,0.84],[874,0.98],[878,0.80],[882,0.94],[886,0.76],[890,0.88],[894,0.72],[898,0.84],[902,0.68],[906,0.80],[910,0.65],[914,0.76],[918,0.62],[922,0.74],[926,0.58],[930,0.70],[934,0.56],[938,0.66],[942,0.52],[946,0.80],[946,0.64],[950,0.50],[954,0.62],[958,0.48],[962,0.60],[966,0.46],[970,0.56],[974,0.44],[978,0.54],[982,0.42],[986,0.52],[990,0.40],[994,0.50],[998,0.38],[1002,0.46]];
const dMid = [[47,4.50],[48,4.55],[50,4.45],[52,4.48],[54,4.38],[56,4.30],[58,4.20],[60,4.08],[62,4.02],[64,3.92],[66,3.84],[68,3.76],[70,3.68],[72,3.60],[74,3.55],[76,3.52],[78,3.46],[80,3.42],[82,3.36],[84,3.30],[86,3.26],[88,3.22],[90,3.18],[92,3.14],[95,3.06],[97,3.02],[99,2.98],[101,2.95],[103,2.90],[105,2.88],[107,2.85],[109,2.80],[111,2.78],[113,2.75],[115,2.70],[117,2.68],[119,2.65],[121,2.62],[123,2.60],[126,2.58],[128,2.55],[131,2.52],[134,2.50],[137,2.48],[140,2.45],[143,2.42],[146,2.42],[149,2.40],[152,2.40],[155,2.42],[158,2.38],[161,2.41],[164,2.40],[167,2.42],[170,2.40],[173,2.42],[176,2.44],[179,2.45],[182,2.44],[185,2.42],[188,2.44],[191,2.43],[194,2.42],[197,2.40],[200,2.40],[203,2.38],[206,2.36],[209,2.38],[212,2.34],[215,2.32],[218,2.30],[221,2.32],[224,2.28],[227,2.30],[230,2.26],[233,2.28],[236,2.26],[239,2.28],[242,2.26],[245,2.28],[248,2.25],[251,2.26],[254,2.24],[257,2.24],[260,2.22],[263,2.20],[266,2.18],[269,2.15],[272,2.12],[275,2.08],[278,2.05],[281,2.02],[284,2.00],[287,1.98],[290,1.95],[293,1.92],[296,1.90],[299,1.88],[302,1.86],[305,1.84],[308,1.82],[311,1.80],[314,1.78],[317,1.76],[320,1.76],[323,1.74],[326,1.72],[329,1.70],[332,1.70],[335,1.68],[338,1.68],[341,1.66],[344,1.66],[347,1.64],[350,1.64],[354,1.62],[358,1.64],[362,1.62],[366,1.64],[370,1.62],[374,1.63],[378,1.62],[382,1.64],[386,1.62],[390,1.63],[394,1.64],[398,1.62],[402,1.64],[406,1.63],[410,1.64],[414,1.62],[418,1.64],[422,1.62],[426,1.62],[430,1.63],[434,1.62],[438,1.60],[442,1.62],[446,1.60],[450,1.59],[454,1.58],[458,1.56],[462,1.57],[466,1.55],[470,1.54],[474,1.52],[478,1.52],[482,1.50],[486,1.49],[490,1.48],[494,1.46],[498,1.45],[502,1.44],[506,1.42],[510,1.41],[514,1.40],[518,1.40],[522,1.38],[526,1.37],[530,1.36],[534,1.35],[538,1.34],[542,1.34],[546,1.32],[550,1.31],[554,1.30],[558,1.30],[562,1.29],[566,1.30],[570,1.30],[574,1.30],[578,1.28],[582,1.29],[586,1.28],[590,1.30],[594,1.29],[598,1.30],[602,1.30],[606,1.31],[610,1.32],[614,1.34],[618,1.36],[622,1.38],[626,1.40],[630,1.42],[634,1.45],[638,1.48],[642,1.52],[646,1.55],[650,1.58],[654,1.62],[658,1.64],[662,1.66],[666,1.68],[670,1.70],[674,1.72],[678,1.74],[682,1.75],[686,1.76],[690,1.77],[694,1.78],[698,1.78],[702,1.78],[706,1.77],[710,1.78],[714,1.79],[718,1.78],[722,1.79],[726,1.78],[730,1.79],[734,1.78],[738,1.78],[742,1.77],[746,1.76],[750,1.76],[754,1.75],[758,1.74],[762,1.74],[766,1.72],[770,1.70],[774,1.68],[778,1.66],[782,1.64],[786,1.60],[790,1.57],[794,1.53],[798,1.49],[802,1.45],[806,1.41],[810,1.38],[814,1.34],[818,1.30],[822,1.26],[826,1.23],[830,1.20],[834,1.16],[838,1.13],[842,1.10],[846,1.06],[850,1.03],[854,1.00],[858,0.97],[862,0.94],[866,0.92],[870,0.89],[874,0.86],[878,0.84],[882,0.82],[886,0.80],[890,0.78],[894,0.76],[898,0.74],[902,0.72],[906,0.70],[910,0.68],[914,0.67],[918,0.65],[922,0.64],[926,0.62],[930,0.61],[934,0.60],[938,0.59],[942,0.58],[946,0.56],[950,0.55],[954,0.54],[958,0.53],[962,0.52],[966,0.51],[970,0.50],[974,0.49],[978,0.48],[982,0.47],[986,0.46],[990,0.45],[994,0.44],[998,0.43],[1002,0.42]];

const INK = '#231f20', RED = '#ed1c24', BLUE = '#2e3192';
const FONT = '"Liberation Sans", Arial, Helvetica, sans-serif';

function curve(data, color, width, order) {
  return { data, showLine: true, borderColor: color, borderWidth: width, pointRadius: 0,
    cubicInterpolationMode: 'monotone', fill: false, order };
}

// frame, inward ticks and the texts that sit around the plot
function decoPlugin(d) {
  return {
    id: 'deco',
    afterDatasetsDraw(chart) {
      const { ctx, chartArea: a } = chart;
      const sx = chart.scales.x, sy = chart.scales.y;
      ctx.save();
      ctx.strokeStyle = INK;
      ctx.lineWidth = 1.3;
      ctx.beginPath();
      sx.ticks.forEach(t => {
        const p = sx.getPixelForValue(t.value);
        const len = t.label ? 6 : 4;
        ctx.moveTo(p, a.bottom); ctx.lineTo(p, a.bottom - len);
        ctx.moveTo(p, a.top); ctx.lineTo(p, a.top + len);
      });
      sy.ticks.forEach(t => {
        const p = sy.getPixelForValue(t.value);
        ctx.moveTo(a.left, p); ctx.lineTo(a.left + 5, p);
        ctx.moveTo(a.right, p); ctx.lineTo(a.right - 5, p);
      });
      ctx.stroke();
      ctx.lineWidth = d.frame;
      ctx.strokeRect(a.left, a.top, a.right - a.left, a.bottom - a.top);

      ctx.fillStyle = INK;
      ctx.textBaseline = 'middle';
      ctx.textAlign = 'left';
      ctx.font = 'bold 24px ' + FONT;
      ctx.fillText(d.label, d.labelAt[0], d.labelAt[1]);
      ctx.font = '22px ' + FONT;
      ctx.fillText(d.letter, d.letterAt[0], d.letterAt[1]);

      ctx.save();
      ctx.translate(d.yTitleAt[0], d.yTitleAt[1]);
      ctx.rotate(-Math.PI / 2);
      ctx.textAlign = 'center';
      ctx.font = 'bold 25px ' + FONT;
      ctx.fillText('Intensity (arb. units)', 0, 0);
      ctx.restore();

      const main = 'Wavenumber (cm', sup = '-1', tail = d.xTail;
      ctx.font = 'bold 23px ' + FONT;
      const w1 = ctx.measureText(main).width, w3 = ctx.measureText(tail).width;
      ctx.font = 'bold 14px ' + FONT;
      const w2 = ctx.measureText(sup).width;
      let x0 = d.xTitleAt[0] - (w1 + w2 + w3) / 2;
      const y0 = d.xTitleAt[1];
      ctx.font = 'bold 23px ' + FONT;
      ctx.fillText(main, x0, y0);
      x0 += w1 + 1;
      ctx.font = 'bold 14px ' + FONT;
      ctx.fillText(sup, x0, y0 - 7);
      x0 += w2;
      ctx.font = 'bold 23px ' + FONT;
      ctx.fillText(tail, x0, y0);
      ctx.restore();
    }
  };
}

function panel(id, p) {
  const datasets = [curve(p.fit, RED, p.lw[0], 0)];
  p.parts.forEach(part => datasets.push(curve(part, BLUE, p.lw[1], 1)));
  datasets.push({ data: p.dots, pointRadius: p.r, pointBackgroundColor: INK, pointBorderWidth: 0, order: 2 });

  new Chart(document.getElementById(id), {
    type: 'scatter',
    data: { datasets },
    options: {
      responsive: false,
      animation: false,
      events: [],
      layout: { padding: p.pad },
      plugins: { legend: { display: false }, tooltip: { enabled: false } },
      scales: {
        x: {
          type: 'linear', min: p.x[0], max: p.x[1],
          afterBuildTicks: s => { s.ticks = p.xTicks.map(v => ({ value: v })); },
          afterFit: s => { s.height = p.xh; s.paddingLeft = 0; s.paddingRight = 0; },
          grid: { display: false, drawTicks: false },
          border: { display: false },
          ticks: {
            autoSkip: false, maxRotation: 0, padding: p.tickPad, color: INK,
            font: { family: FONT, size: 22, weight: 'bold' },
            callback: (v, i) => p.xLabels[i]
          }
        },
        y: {
          type: 'linear', min: p.y[0], max: p.y[1],
          afterBuildTicks: s => { s.ticks = p.yTicks.map(v => ({ value: v })); },
          afterFit: s => { s.width = 52; },
          grid: { display: false, drawTicks: false },
          border: { display: false },
          ticks: { display: false, autoSkip: false }
        }
      }
    },
    plugins: [decoPlugin(p.deco)]
  });
}

panel('pa', {
  fit: aFit, parts: [aPeak1, aPeak2, aPeak3, aPeak4, aBase], dots: aDots.concat(aMid, aMid2),
  x: [-13, 814], y: [0, 11], xTicks: aXTicks, xLabels: aXLabels, yTicks: aYTicks,
  pad: { top: 5, right: 12, left: 0, bottom: 0 }, xh: 82, tickPad: 6, r: 3.6, lw: [1.7, 1.4],
  deco: { frame: 2, label: '750 K - VH Polarized', labelAt: [107, 47], letter: '(a)', letterAt: [390, 47],
    yTitleAt: [23, 232], xTitleAt: [222, 482], xTail: ')' }
});

panel('pb', {
  fit: bFit, parts: [bPeak1, bPeak2, bPeak3, bPeak4, bPeak5, bBase], dots: bDots.concat(bMid, bMid2),
  x: [300, 900.6], y: [0, 3.21], xTicks: bXTicks, xLabels: bXLabels, yTicks: bYTicks,
  pad: { top: 5, right: 32, left: 0, bottom: 0 }, xh: 82, tickPad: 6, r: 3.5, lw: [1.7, 1.4],
  deco: { frame: 2, label: '233 K - VV Polarized', labelAt: [65, 42], letter: '(b)', letterAt: [377, 45],
    yTitleAt: [22.5, 231], xTitleAt: [235, 478], xTail: ')' }
});

panel('pc', {
  fit: cFit, parts: [cPeak1, cPeak2], dots: cDots,
  x: [610, 871], y: [-0.4, 8.02], xTicks: cXTicks, xLabels: cXLabels, yTicks: cYTicks,
  pad: { top: 10, right: 12, left: 0, bottom: 0 }, xh: 85, tickPad: 7, r: 4.6, lw: [3.4, 3],
  deco: { frame: 2.2, label: '900 K -VV Polarized', labelAt: [58, 34], letter: '(c)', letterAt: [345, 38],
    yTitleAt: [21.7, 217], xTitleAt: [257, 498], xTail: ' )' }
});

panel('pd', {
  fit: dFit, parts: [dPeak1, dPeak2, dPeak3, dPeak4, dPeak5, dPeak6, dBase], dots: dDots.concat(dMid),
  x: [46, 1003], y: [-0.08, 4.82], xTicks: dXTicks, xLabels: dXLabels, yTicks: dYTicks,
  pad: { top: 13, right: 24, left: 0, bottom: 0 }, xh: 88, tickPad: 7, r: 3.7, lw: [1.7, 1.4],
  deco: { frame: 2, label: '900 K -VV Polarized', labelAt: [86, 60], letter: '(d)', letterAt: [357, 62],
    yTitleAt: [23.3, 240], xTitleAt: [252.5, 495], xTail: ')' }
});
</script>
</body>
</html>
